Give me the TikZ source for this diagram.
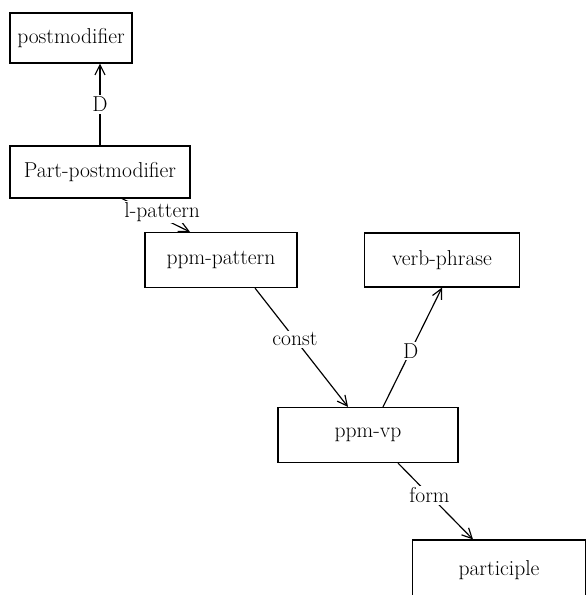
\documentclass[tikz,border=0pt]{standalone}
\usetikzlibrary{
	positioning,
	arrows.meta
}

\begin{document}
\begin{tikzpicture}[
			x=0.03cm, y=-0.03cm,
			font=\fontsize{18.4}{22}\selectfont,
			box/.style={
				draw,
				line width=1pt,
				align=center,
				inner sep=2pt
			},
			link/.style={-{Straight Barb[length=3mm,width=3mm]},line width=1pt},
			lbl/.style={fill=white,inner sep=1.5pt}
			]
			\useasboundingbox (0,0) rectangle (587,595);
			
			\node[box,minimum width=3.66cm,minimum height=1.5cm] (postmod) at (71,38)
			{postmodifier};
			
			\node[box,minimum width=5.4cm,minimum height=1.56cm] (partpm) at (100,172)
			{Part-postmodifier};
			
			\node[box,minimum width=4.56cm,minimum height=1.65cm] (ppmpat) at (221,260)
			{ppm-pattern};
			
			\node[box,minimum width=4.65cm,minimum height=1.62cm] (verbph) at (442,260)
			{verb-phrase};
			
			\node[box,minimum width=5.4cm,minimum height=1.65cm] (ppmvp) at (368,435)
			{ppm-vp};
			
			\node[box,minimum width=5.2cm,minimum height=1.8cm] (partic) at (499,570)
			{participle};
			
			\draw[link] (partpm.north) -- node[lbl]{D} (partpm.north |- postmod.south);
			\draw[link] ([xshift=0.66cm]partpm.south) -- node[lbl,pos=0.4,xshift=0.39cm]{l-pattern} ([xshift=-0.93cm]ppmpat.north);
			\draw[link] ([xshift=1.02cm]ppmpat.south) -- node[lbl,pos=0.43]{const} ([xshift=-0.6cm]ppmvp.north);
			\draw[link] ([xshift=0.45cm]ppmvp.north) -- node[lbl,pos=0.47]{D} (verbph.south);
			\draw[link] ([xshift=0.9cm]ppmvp.south) -- node[lbl,pos=0.42]{form} ([xshift=-0.78cm]partic.north);
			
		\end{tikzpicture}
\end{document}
